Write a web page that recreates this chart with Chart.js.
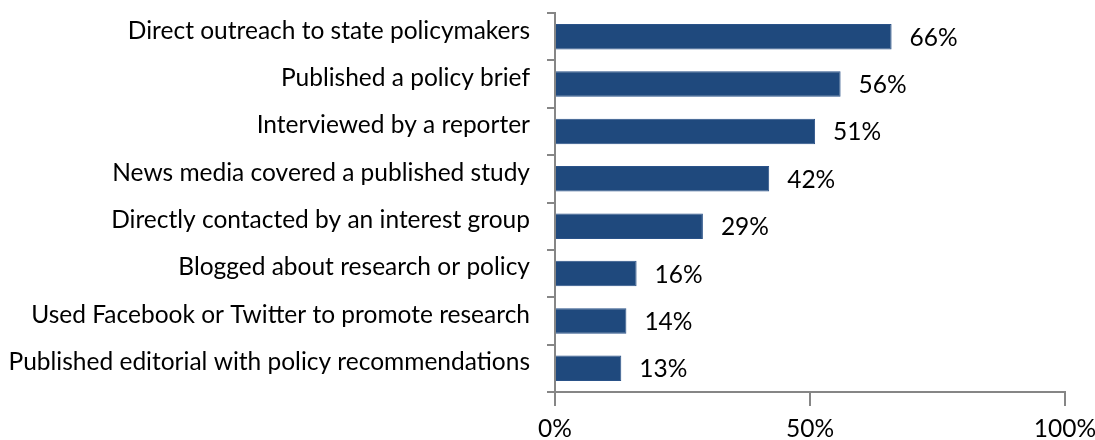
<!DOCTYPE html>
<html>
<head>
<meta charset="utf-8">
<script src="https://cdn.jsdelivr.net/npm/chart.js@4"></script>
<style>
  html, body { margin: 0; padding: 0; background: #fff; }
  #wrap { width: 1095px; height: 440px; }
</style>
</head>
<body>
<div id="wrap"><canvas id="myChart" width="1095" height="440"></canvas></div>
<script>
'use strict';

let categories = [
  'Direct outreach to state policymakers',
  'Published a policy brief',
  'Interviewed by a reporter',
  'News media covered a published study',
  'Directly contacted by an interest group',
  'Blogged about research or policy',
  'Used Facebook or Twitter to promote research',
  'Published editorial with policy recommendations'
];
let percentValues = [66, 56, 51, 42, 29, 16, 14, 13];
let tickValues = [0, 50, 100];

let fontFamily = 'Lato, "Open Sans", sans-serif';
let fontSize = 24.5;
let axisColor = '#868686';

// draws the "66%" labels next to each bar
const valueLabels = {
  id: 'valueLabels',
  afterDatasetsDraw(chart) {
    let ctx = chart.ctx;
    let meta = chart.getDatasetMeta(0);
    ctx.save();
    ctx.font = fontSize + 'px ' + fontFamily;
    ctx.fillStyle = '#000';
    ctx.textAlign = 'left';
    ctx.textBaseline = 'alphabetic';
    meta.data.forEach(function (bar, i) {
      ctx.fillText(percentValues[i] + '%', bar.x + 18, bar.y + 9);
    });
    ctx.restore();
  }
};

const config = {
  type: 'bar',
  data: {
    labels: categories,
    datasets: [{
      data: percentValues,
      backgroundColor: '#1F497D',
      borderColor: '#2A5288',
      borderWidth: 1,
      categoryPercentage: 0.54,
      barPercentage: 1
    }]
  },
  options: {
    indexAxis: 'y',
    responsive: false,
    animation: false,
    layout: { padding: { top: 13, right: 30, left: 0, bottom: 0 } },
    plugins: {
      legend: { display: false },
      tooltip: { enabled: false }
    },
    scales: {
      x: {
        min: 0,
        max: 100,
        afterBuildTicks(scale) {
          scale.ticks = tickValues.map(function (v) { return { value: v }; });
        },
        afterFit(scale) {
          scale.height = 48;
          scale.paddingLeft = 0;
          scale.paddingRight = 0;
        },
        border: { color: axisColor, width: 2 },
        grid: { drawOnChartArea: false, color: axisColor, lineWidth: 2, tickLength: 14 },
        ticks: {
          padding: 8,
          color: '#000',
          font: { family: fontFamily, size: fontSize },
          callback: function (v) { return v + '%'; }
        }
      },
      y: {
        afterFit(scale) {
          scale.width = 555;
          scale.paddingTop = 0;
          scale.paddingBottom = 0;
        },
        border: { color: axisColor, width: 2 },
        grid: { drawOnChartArea: false, color: axisColor, lineWidth: 2, tickLength: 8 },
        ticks: {
          padding: 17,
          labelOffset: -6,
          color: '#000',
          font: { family: fontFamily, size: fontSize }
        }
      }
    }
  },
  plugins: [valueLabels]
};

let chartCanvas = document.getElementById('myChart').getContext('2d');
const myChart = new Chart(chartCanvas, config);
</script>
</body>
</html>
